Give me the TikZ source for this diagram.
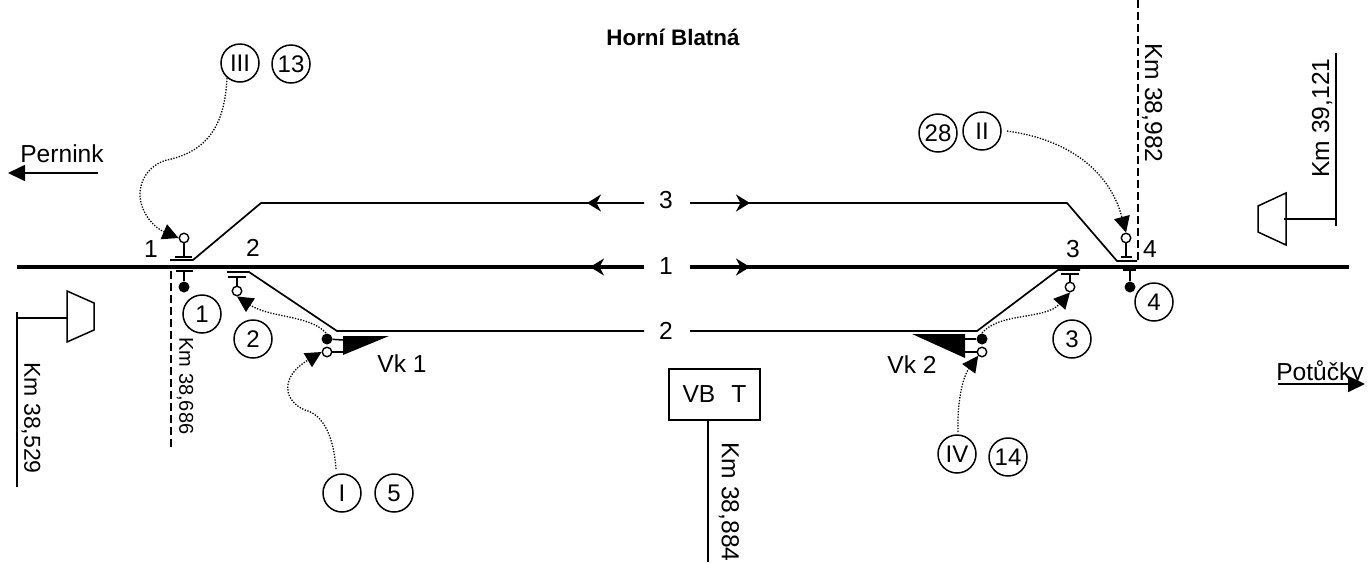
\documentclass[tikz,border=0pt]{standalone}
\usepackage{fontspec}
\setmainfont{Liberation Sans}
\usetikzlibrary{arrows.meta}
\newcommand{\fs}[1]{\fontsize{#1}{#1}\selectfont}
\tikzset{
 line/.style={line width=1.7pt},
 thin line/.style={line width=1.5pt},
 main/.style={line width=4pt},
 circ/.style={circle,draw,line width=1.5pt,minimum size=38pt,inner sep=0pt,font=\fs{24}},
 open/.style={circle,draw,fill=white,line width=1.4pt,minimum size=9.5pt,inner sep=0pt},
 solid dot/.style={circle,fill=black,minimum size=11pt,inner sep=0pt},
 txt/.style={font=\fs{24.6},inner sep=0pt},
 small arrow/.style={line width=1.7pt,-{Stealth[length=14pt,width=17pt,inset=4.5pt]}},
 leader/.style={dash pattern=on 1.3pt off 1.5pt,line width=1.3pt,-{Triangle[length=16pt,width=16pt]}},
 big arrow/.style={line width=1.7pt,-{Triangle[length=17pt,width=16pt]}},
 kmdash/.style={line width=1.7pt,dash pattern=on 8pt off 4pt},
}
\begin{document}
\begin{tikzpicture}[x=1pt,y=-1pt]
\useasboundingbox (0,0) rectangle (1370,563);
% labels of tracks
\node[txt] (t3) at (666,200) {3};
\node[txt] (t1) at (666,266) {1};
\node[txt] (t2) at (666,331) {2};
% main track
\coordinate (mL) at (17,267); \coordinate (mR) at (1349,267);
\coordinate (mA) at (644,267); \coordinate (mB) at (690,267);
\draw[main] (mL) -- (mA);
\draw[main] (mB) -- (mR);
% track 3
\coordinate (a1) at (170,260); \coordinate (a2) at (193,260); \coordinate (a3) at (261,203);
\coordinate (a4) at (1067,203); \coordinate (a5) at (1117,261); \coordinate (a6) at (1137,261);
\coordinate (a7) at (644,203); \coordinate (a8) at (690,203);
\draw[line] (a1) -- (a2) -- (a3) -- (a7);
\draw[line] (a8) -- (a4) -- (a5) -- (a6);
% track 2
\coordinate (b1) at (227,272); \coordinate (b2) at (249,272); \coordinate (b3) at (337,331);
\coordinate (b4) at (977,331); \coordinate (b5) at (1058,270); \coordinate (b6) at (1080,270);
\coordinate (b7) at (644,331); \coordinate (b8) at (690,331);
\draw[line] (b1) -- (b2) -- (b3) -- (b7);
\draw[line] (b8) -- (b4) -- (b5) -- (b6);
% direction arrows
\coordinate (d1) at (587,203); \coordinate (d2) at (750,203);
\coordinate (d3) at (590,267); \coordinate (d4) at (750,267);
\draw[small arrow] (a7) -- (d1);
\draw[small arrow] (a8) -- (d2);
\draw[small arrow] (mA) -- (d3);
\draw[small arrow] (mB) -- (d4);
% signals
\node[open] (s1) at (184,238) {};
\draw[thin line] (s1) -- (184,257); \draw[thin line] (175,257) -- (192,257);
\node[solid dot] (s1b) at (184,287) {};
\draw[thin line] (s1b) -- (184,271); \draw[thin line] (176,271) -- (193,271);
\node[open] (s2) at (237,291) {};
\draw[thin line] (s2) -- (237,277); \draw[thin line] (228,277) -- (246,277);
\node[open] (s3) at (1070,287) {};
\draw[thin line] (s3) -- (1070,274); \draw[thin line] (1061,274) -- (1079,274);
\node[open] (s4) at (1126,238) {};
\draw[thin line] (s4) -- (1126,257); \draw[thin line] (1121,257) -- (1132,257);
\node[solid dot] (s4b) at (1130,287) {};
\draw[thin line] (s4b) -- (1130,270); \draw[thin line] (1123,270) -- (1136,270);
% Vk 1
\fill (343,336) -- (389,336) -- (343,355) -- cycle;
\node[solid dot] (v1a) at (327,339) {};
\node[open] (v1b) at (327,352) {};
\draw[thin line] (v1a) -- (343,340); \draw[thin line] (v1b) -- (343,352);
\node[txt] at (402,364) {Vk 1};
% Vk 2
\fill (912,334) -- (965,334) -- (965,358) -- cycle;
\node[solid dot] (v2a) at (982,339) {};
\node[open] (v2b) at (982,352) {};
\draw[thin line] (v2a) -- (965,339); \draw[thin line] (v2b) -- (965,352);
\node[txt] at (912,365) {Vk 2};
% km lines
\draw[kmdash] (171,271) -- (171,448);
\draw[kmdash] (1138,0) -- (1138,261);
\node[txt,font=\fs{20},rotate=-90] at (185,386) {Km 38,686};
\node[txt,rotate=-90] at (1152,103) {Km 38,982};
% left distant
\draw[thin line] (67,291) -- (94,303) -- (94,330) -- (67,342) -- cycle;
\draw[thin line] (17,318) -- (67,318);
\draw[thin line] (17,312) -- (17,487);
\node[txt,font=\fs{23},rotate=-90] at (31,418) {Km 38,529};
% right distant
\draw[thin line] (1286,193) -- (1258,206) -- (1258,232) -- (1286,245) -- cycle;
\draw[thin line] (1284,219) -- (1336,219);
\draw[thin line] (1336,53) -- (1336,226);
\node[txt,rotate=90] at (1322,118) {Km 39,121};
% VB T
\node[draw,thin line,minimum width=91pt,minimum height=51pt,inner sep=0pt,txt] (vb) at (714.5,394.5) {VB\hspace{16pt}T};
\coordinate (vbe) at (708,562);
\draw[thin line] (vb.south -| vbe) -- (vbe);
\node[txt,rotate=-90] at (729,502) {Km 38,884};
% texts
\node[txt,font=\fs{22.4}\bfseries] at (673,37) {Horní Blatná};
\node[txt] at (62,154) {Pernink};
\node[txt,anchor=base] at (1320,380) {Potůčky};
\coordinate (pA) at (98,173); \coordinate (pB) at (8,173);
\draw[big arrow] (pA) -- (pB);
\coordinate (qA) at (1278,384); \coordinate (qB) at (1365,384);
\draw[big arrow] (qA) -- (qB);
\node[txt] at (151,249) {1};
\node[txt] at (253,248) {2};
\node[txt] at (1073,249) {3};
\node[txt] at (1150,249) {4};
% circled
\node[circ] (c3r) at (240,63) {III};
\node[circ] (c13) at (291,64) {13};
\node[circ] (c28) at (938,133) {28};
\node[circ] (c2r) at (982,131) {II};
\node[circ] (c1r) at (342,493) {I};
\node[circ] (c5) at (394,493) {5};
\node[circ] (c4r) at (957,454) {IV};
\node[circ] (c14) at (1008,457) {14};
\node[circ] (c1) at (202,314) {1};
\node[circ] (c2) at (253,339) {2};
\node[circ] (c3) at (1072,339) {3};
\node[circ] (c4) at (1154,302) {4};
% leader starts
\coordinate (l1) at (227,78);
\coordinate (l2) at (1007,131);
\coordinate (l3) at (336,469);
\coordinate (l4) at (958,432);
\coordinate (l5) at (326,333);
\coordinate (l6) at (982,333);
% leaders
\draw[leader] (l1) .. controls (225,115) and (215,150) .. (167,160) .. controls (148,165) and (139,182) .. (140,197) .. controls (142,215) and (155,228) .. (s1.west);
\draw[leader] (l2) .. controls (1060,138) and (1108,165) .. (s4.north);
\draw[leader] (l5) .. controls (310,315) and (270,318) .. (s2.south);
\draw[leader] (l3) .. controls (334,440) and (325,415) .. (305,410) .. controls (285,402) and (278,378) .. (v1b.west);
\draw[leader] (l6) .. controls (1000,312) and (1045,320) .. (s3.south);
\draw[leader] (l4) .. controls (957,405) and (962,378) .. (v2b.south west);
\end{tikzpicture}
\end{document}
